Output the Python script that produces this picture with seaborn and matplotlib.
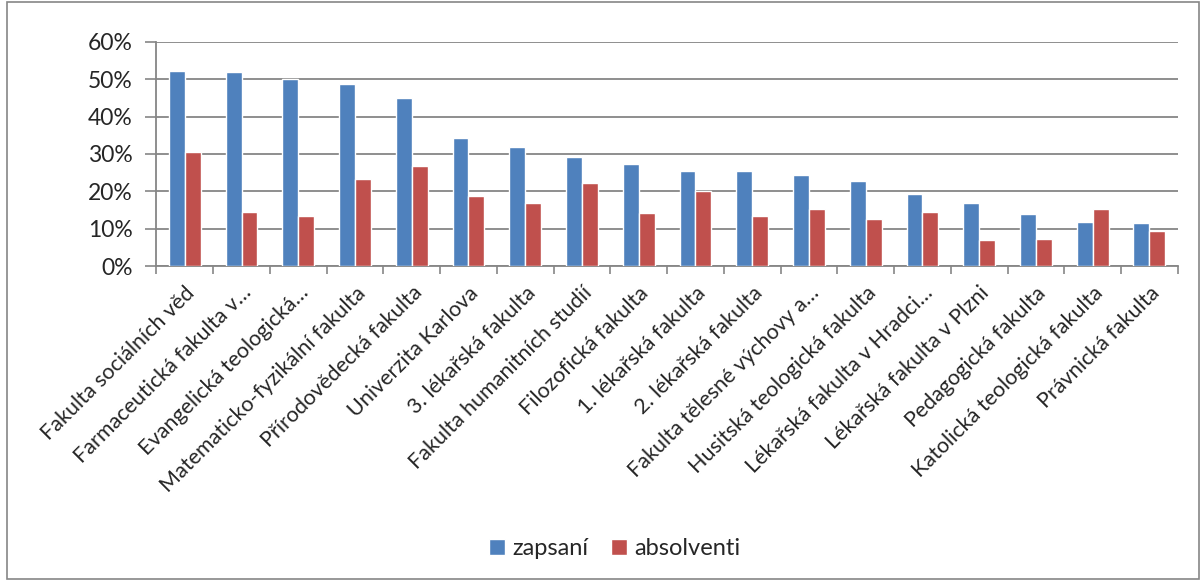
import numpy as np
import pandas as pd
import matplotlib
matplotlib.use("Agg")
import matplotlib.pyplot as plt
import seaborn as sns
from matplotlib.ticker import PercentFormatter, FixedLocator
from matplotlib.patches import Rectangle

fakulty = [
    "Fakulta sociálních věd",
    "Farmaceutická fakulta v…",
    "Evangelická teologická…",
    "Matematicko-fyzikální fakulta",
    "Přírodovědecká fakulta",
    "Univerzita Karlova",
    "3. lékařská fakulta",
    "Fakulta humanitních studií",
    "Filozofická fakulta",
    "1. lékařská fakulta",
    "2. lékařská fakulta",
    "Fakulta tělesné výchovy a…",
    "Husitská teologická fakulta",
    "Lékařská fakulta v Hradci…",
    "Lékařská fakulta v Plzni",
    "Pedagogická fakulta",
    "Katolická teologická fakulta",
    "Právnická fakulta",
]
zapsani = [52.1, 51.9, 50.1, 48.8, 45.0, 34.3, 31.8, 29.3, 27.3,
           25.5, 25.4, 24.3, 22.8, 19.3, 17.0, 13.9, 11.8, 11.4]
absolventi = [30.5, 14.6, 13.3, 23.4, 26.7, 18.75, 16.8, 22.2, 14.1,
              20.0, 13.4, 15.2, 12.6, 14.5, 7.0, 7.2, 15.3, 9.3]
serie = ["zapsaní", "absolventi"]
barvy = ["#4F81BD", "#C0504D"]

df = pd.DataFrame({
    "fakulta": fakulty * 2,
    "hodnota": zapsani + absolventi,
    "serie": np.repeat(serie, len(fakulty)),
})

sns.set_theme(style="white")
plt.rcParams["font.family"] = ["Lato", "DejaVu Sans"]
grey = "#868686"

fig = plt.figure(figsize=(12.03, 5.81), dpi=100)
ax = fig.add_axes([0.130, 0.542, 0.849, 0.386])

sns.barplot(data=df, x="fakulta", y="hodnota", hue="serie", palette=barvy,
            width=0.56, gap=0, saturation=1, ax=ax, zorder=3)

# legend at the bottom of the chart area
handles, labels = ax.get_legend_handles_labels()
ax.get_legend().remove()
fig.legend(handles, labels, loc="center", bbox_to_anchor=(0.511, 0.056),
           ncol=2, frameon=False, fontsize=17, handlelength=0.65,
           handleheight=0.65, handletextpad=0.3, columnspacing=1.0)

ax.set_ylim(0, 60)
ax.set_xlim(-0.5, len(fakulty) - 0.5)
ax.yaxis.set_major_locator(FixedLocator(np.arange(0, 61, 10)))
ax.yaxis.set_major_formatter(PercentFormatter(100, decimals=0))
ax.grid(axis="y", color=grey, linewidth=1.3, zorder=0)
ax.set_axisbelow(True)
ax.set_xlabel("")
ax.set_ylabel("")

ax.tick_params(axis="y", labelsize=16.5, length=8, color=grey, width=1.2,
               left=True, pad=9)
ax.set_xticks(range(len(fakulty)))
ax.set_xticklabels(fakulty, rotation=45, ha="right", rotation_mode="anchor",
                   fontsize=15.5)
ax.tick_params(axis="x", which="major", length=0, pad=12)
ax.set_xticks(np.arange(-0.5, len(fakulty)), minor=True)
ax.tick_params(axis="x", which="minor", length=6, color=grey, width=1.2,
               bottom=True)

for s in ["top", "right"]:
    ax.spines[s].set_visible(False)
for s in ["left", "bottom"]:
    ax.spines[s].set_color(grey)
    ax.spines[s].set_linewidth(1.3)

# chart area border
fig.patches.append(Rectangle((0.006, 0.003), 0.991, 0.994,
                             transform=fig.transFigure, fill=False,
                             edgecolor=grey, linewidth=1.2))

fig.savefig("out.png", dpi=100)
